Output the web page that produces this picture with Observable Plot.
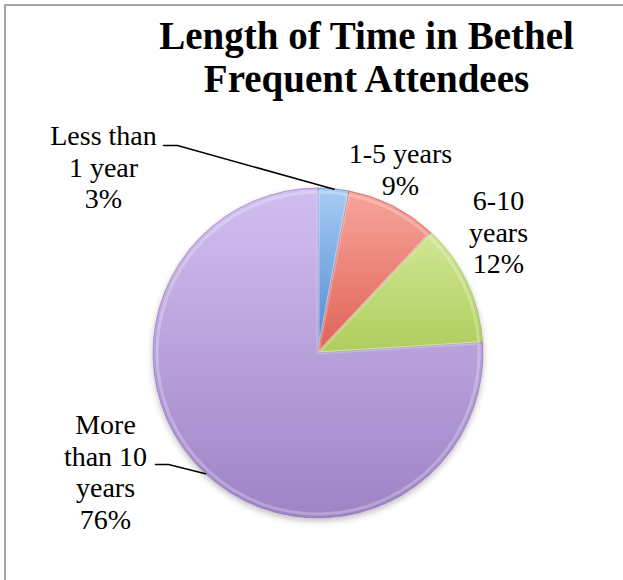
<!DOCTYPE html>
<html><head><meta charset="utf-8">
<script src="https://cdn.jsdelivr.net/npm/d3@7"></script>
<script src="https://cdn.jsdelivr.net/npm/@observablehq/plot@0.6"></script>
<style>body{margin:0;background:#fff;overflow:hidden}</style>
</head><body><div id="chart"></div>
<script>
// ---- data ----
const categories = ["Less than 1 year", "1-5 years", "6-10 years", "More than 10 years"];
const labelLines = ["Less than\n1 year", "1-5 years", "6-10\nyears", "More\nthan 10\nyears"];
const percents = [3, 9, 12, 76];
const titleText = "Length of Time in Bethel\nFrequent Attendees";

// ---- styles / layout ----
const W = 623, H = 580, R = 165, CX = 318, CY = 353;
const lightColors = ["#a8ccf6", "#f8a69d", "#ddf0a6", "#d1bff0"];
const darkColors  = ["#4f86d0", "#df6256", "#aecd5e", "#9f83c6"];
const fontFamily = "'Liberation Serif', 'DejaVu Serif', serif";
// label text anchor (centre x, top y) as offsets from the pie centre, in px
const labelLayout = [
  {dx: -215, dy: -231, leader: [[-155, -208], [-141, -208]]},
  {dx: 82,   dy: -213, leader: null},
  {dx: 180,  dy: -166, leader: null},
  {dx: -213, dy: 58,   leader: [[-163, 111], [-150, 111]]}
];

const xOpts = {type: "linear", domain: [-CX, W - CX], range: [0, W]};
const yOpts = {type: "linear", domain: [-CY, H - CY], range: [0, H]};
const xS = Plot.scale({x: xOpts});
const yS = Plot.scale({y: yOpts});

const table = categories.map((c, i) => ({category: c, value: percents[i], i}));
const pieGen = d3.pie().value(d => d.value).sort(null);
const arcs = pieGen(table);
const arcGen = d3.arc().innerRadius(0).outerRadius(R);

const labels = table.map((d, i) => ({
  text: labelLines[i] + "\n" + d.value + "%",
  x: labelLayout[i].dx, y: labelLayout[i].dy
}));

const leaders = [];
arcs.forEach((a, i) => {
  const L = labelLayout[i].leader;
  if (!L) return;
  const mid = (a.startAngle + a.endAngle) / 2;
  const pts = [...L, [R * Math.sin(mid), -R * Math.cos(mid)]];
  pts.forEach(p => leaders.push({x: p[0], y: p[1], k: i}));
});

function frameMark() {
  return d3.create("svg:path")
    .attr("d", `M5,${H}V5H${W}`)
    .attr("fill", "none").attr("stroke", "#a5a5a5").attr("stroke-width", 2)
    .node();
}

function pieMark() {
  const g = d3.create("svg:g")
    .attr("transform", `translate(${xS.apply(0)},${yS.apply(0)})`);
  const defs = g.append("defs");
  arcs.forEach((a, i) => {
    const lg = defs.append("linearGradient")
      .attr("id", "sg" + i).attr("gradientUnits", "userSpaceOnUse")
      .attr("x1", 0).attr("y1", -R).attr("x2", 0).attr("y2", R);
    if (i < 3) {
      lg.append("stop").attr("offset", 0).attr("stop-color", lightColors[i]);
      lg.append("stop").attr("offset", 0.5).attr("stop-color", darkColors[i]);
      lg.append("stop").attr("offset", 1).attr("stop-color", darkColors[i]);
    } else {
      lg.append("stop").attr("offset", 0).attr("stop-color", lightColors[i]);
      lg.append("stop").attr("offset", 1).attr("stop-color", darkColors[i]);
    }
  });
  const f = defs.append("filter").attr("id", "shadow").attr("x", -0.2).attr("y", -0.2).attr("width", 1.4).attr("height", 1.4);
  f.append("feGaussianBlur").attr("in", "SourceAlpha").attr("stdDeviation", 3);
  f.append("feOffset").attr("dx", 0).attr("dy", 3).attr("result", "b");
  f.append("feComponentTransfer").append("feFuncA").attr("type", "linear").attr("slope", 0.25);
  const m = f.append("feMerge");
  m.append("feMergeNode");
  m.append("feMergeNode").attr("in", "SourceGraphic");
  const pg = g.append("g").attr("filter", "url(#shadow)");
  arcs.forEach((a, i) => {
    pg.append("path").attr("d", arcGen(a))
      .attr("fill", `url(#sg${i})`)
      .attr("stroke", d3.color(darkColors[i]).darker(0.4))
      .attr("stroke-opacity", 0.6)
      .attr("stroke-width", 1)
      .attr("stroke-linejoin", "round");
    // inner bevel highlight
    pg.append("path").attr("d", d3.arc().innerRadius(0).outerRadius(R - 4)(a))
      .attr("fill", "none").attr("stroke", "#fff").attr("stroke-opacity", 0.25).attr("stroke-width", 3);
  });
  return g.node();
}

const chart = Plot.plot({
  width: W, height: H,
  margin: 0,
  x: {...xOpts, axis: null},
  y: {...yOpts, axis: null},
  style: {fontFamily, background: "#fff", overflow: "hidden"},
  marks: [
    frameMark,
    pieMark,
    Plot.line(leaders, {x: "x", y: "y", z: "k", stroke: "#000", strokeWidth: 1.5}),
    Plot.text(labels, {x: "x", y: "y", text: "text", lineAnchor: "top", lineHeight: 1.13,
      fontSize: 28, fill: "#000", textAnchor: "middle", fontFamily}),
    Plot.text([titleText], {x: () => 48, y: () => -334, text: d => d, lineAnchor: "top", lineHeight: 1.08,
      fontSize: 39, fontWeight: "bold", fill: "#000", textAnchor: "middle", fontFamily})
  ]
});
document.getElementById("chart").append(chart);
</script>
</body></html>
